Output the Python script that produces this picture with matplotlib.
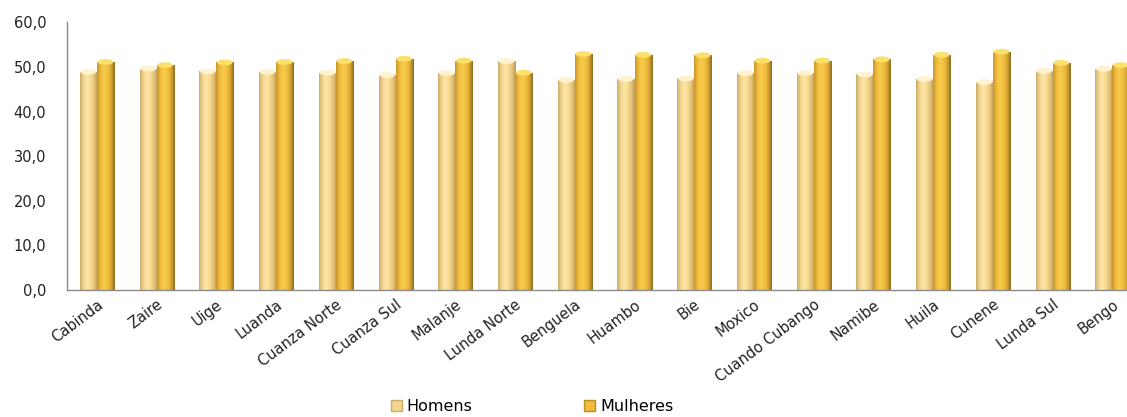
import numpy as np
import matplotlib
matplotlib.use("Agg")
import matplotlib.pyplot as plt
from matplotlib.colors import LinearSegmentedColormap
from matplotlib.patches import Ellipse, Patch
from matplotlib.ticker import FuncFormatter

provinces = ["Cabinda", "Zaire", "Uige", "Luanda", "Cuanza Norte", "Cuanza Sul",
             "Malanje", "Lunda Norte", "Benguela", "Huambo", "Bie", "Moxico",
             "Cuando Cubango", "Namibe", "Huila", "Cunene", "Lunda Sul", "Bengo"]
homens = [48.9, 49.6, 49.0, 48.9, 48.7, 48.2, 48.6, 51.3, 47.1, 47.3, 47.4, 48.6,
          48.6, 48.3, 47.3, 46.6, 49.1, 49.6]
mulheres = [51.1, 50.4, 51.0, 51.1, 51.3, 51.8, 51.4, 48.7, 52.9, 52.7, 52.6, 51.4,
            51.4, 51.7, 52.7, 53.4, 50.9, 50.4]
series_names = ["Homens", "Mulheres"]
y_ticks = [0, 10, 20, 30, 40, 50, 60]

plt.rcParams["font.family"] = ["DejaVu Sans"]

fig = plt.figure(figsize=(11.27, 4.17), dpi=100)
ax = fig.add_axes([0.0595, 0.3046, 0.954, 0.642])

# horizontal shading profiles for the cylinder-like columns
shade_h = LinearSegmentedColormap.from_list(
    "h", ["#c9ad6a", "#f3d58e", "#fde6a6", "#f7da92", "#e6c27a", "#b89a55"])
shade_m = LinearSegmentedColormap.from_list(
    "m", ["#c9952c", "#f0bc3e", "#f9cc4c", "#f2c040", "#d9a632", "#8a6a22"])
cap_h = "#fff3cf"
cap_m = "#fbe06a"

x = np.arange(len(provinces))
w = 0.285
grad = np.linspace(0, 1, 64).reshape(1, -1)


def cylinders(xpos, vals, cmap, cap, label):
    bars = ax.bar(xpos, vals, width=w, color="none", edgecolor="none", label=label)
    for b, v in zip(bars, vals):
        x0 = b.get_x()
        im = ax.imshow(grad, cmap=cmap, extent=[x0, x0 + w, 0, v],
                       aspect="auto", origin="lower", zorder=2, interpolation="bicubic")
        im.set_clip_path(b)
        ax.add_patch(Ellipse((x0 + w / 2, v), w * 0.92, 1.3, facecolor=cap,
                             edgecolor="none", zorder=3))
    return bars


cylinders(x - w / 2, homens, shade_h, cap_h, series_names[0])
cylinders(x + w / 2, mulheres, shade_m, cap_m, series_names[1])

ax.set_xlim(-0.5, len(provinces) - 0.5)
ax.set_ylim(0, 60)
ax.set_yticks(y_ticks)
ax.yaxis.set_major_formatter(FuncFormatter(lambda v, p: f"{v:.1f}".replace(".", ",")))
ax.set_xticks(x)
ax.set_xticklabels(provinces, rotation=37, ha="right", rotation_mode="anchor")
ax.tick_params(axis="both", length=0, labelsize=10.5, colors="#222222")
ax.tick_params(axis="y", pad=15)
ax.tick_params(axis="x", pad=5)

for side in ("top", "right"):
    ax.spines[side].set_visible(False)
for side in ("left", "bottom"):
    ax.spines[side].set_color("#8c8c8c")
    ax.spines[side].set_linewidth(1.0)

handles = [Patch(facecolor="#f3d58e", edgecolor="#c9ad6a"),
           Patch(facecolor="#f0bc3e", edgecolor="#b8901f")]
fig.legend(handles, series_names, loc="center", bbox_to_anchor=(0.472, 0.024),
           ncol=2, frameon=False, fontsize=11.5, handlelength=0.7, handleheight=0.7,
           handletextpad=0.3, columnspacing=7.0)

fig.savefig("out.png", dpi=100, facecolor="white")
